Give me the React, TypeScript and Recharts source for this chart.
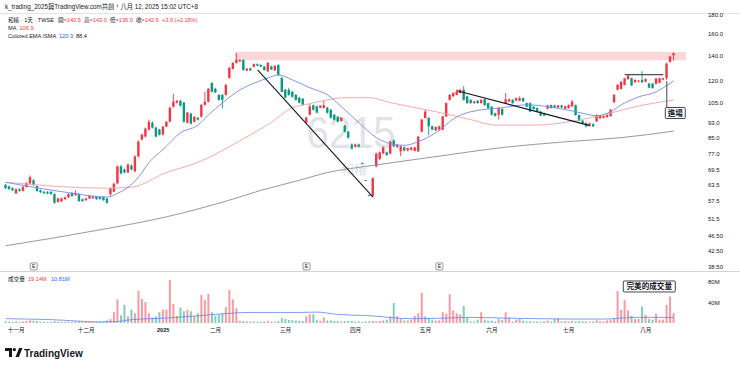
import React from "react";
import {
  ComposedChart,
  Bar,
  Line,
  XAxis,
  YAxis,
  Cell,
  ReferenceArea,
  ReferenceLine,
  ReferenceDot,
} from "recharts";

// daily candles, 和椿 6215, late Oct 2024 -> Aug 12 2025
const opens = [
  63.5, 63.0, 62.3, 60.4, 61.9, 61.3, 62.8, 64.2, 65.4, 63.1, 61.5, 61.0, 60.8, 60.9, 60.1, 57.3, 57.5, 58.3, 58.9, 60.5,
  59.7, 60.1, 58.2, 57.9, 58.5, 58.6, 59.1, 59.0, 59.0, 58.5, 60.0, 61.0, 64.2, 71.2, 69.9, 68.6, 71.6, 69.1, 75.7, 83.9,
  85.5, 89.2, 93.0, 90.3, 89.2, 86.5, 90.8, 93.6, 102.6, 105.2, 106.4, 105.2, 93.0, 98.3, 93.6, 95.9, 96.5, 103.8, 105.8, 118.7,
  114.5, 110.3, 110.3, 110.3, 122.4, 129.3, 134.2, 135.5, 136.6, 128.0, 129.8, 131.0, 133.2, 132.5, 131.2, 127.4, 131.2, 128.2, 132.5, 122.4,
  113.8, 113.8, 112.4, 110.3, 108.4, 107.7, 93.2, 97.7, 103.5, 102.8, 102.0, 101.8, 102.0, 100.7, 97.7, 96.5, 94.0, 91.4, 88.1, 81.4,
  80.4, 81.4, 72.8, 65.5, 59.8, 59.5, 71.2, 74.5, 77.1, 77.6, 77.0, 83.4, 80.2, 78.1, 80.0, 78.5, 78.8, 78.3, 78.1, 88.1,
  95.8, 95.8, 91.0, 88.8, 89.2, 89.2, 96.7, 107.0, 109.4, 110.3, 111.6, 113.8, 109.3, 107.0, 104.9, 106.4, 104.9, 107.4, 104.9, 102.6,
  98.5, 97.7, 101.2, 104.9, 106.0, 107.0, 106.5, 106.5, 108.1, 104.9, 104.9, 102.6, 101.7, 99.6, 98.5, 101.4, 103.6, 103.4, 102.2, 103.4,
  101.4, 101.8, 102.8, 103.6, 97.5, 94.2, 92.8, 91.4, 92.2, 93.8, 95.6, 95.9, 96.3, 96.9, 105.5, 113.8, 114.4, 117.3, 121.5, 122.2,
  119.2, 119.6, 120.9, 119.6, 118.2, 118.2, 118.0, 118.8, 121.0, 122.4, 135.0, 140.5,
];
const highs = [
  64.0, 63.3, 62.7, 62.3, 62.3, 63.2, 64.6, 67.4, 65.8, 63.4, 61.8, 61.2, 61.2, 61.2, 60.4, 58.8, 58.8, 59.2, 60.4, 61.0,
  61.5, 60.4, 58.5, 58.8, 59.7, 59.6, 59.4, 59.3, 59.2, 58.7, 62.5, 64.5, 71.6, 71.8, 70.3, 72.4, 72.0, 76.1, 83.4, 87.0,
  90.3, 94.8, 93.8, 90.8, 89.6, 91.2, 94.0, 102.6, 111.0, 107.0, 107.0, 105.8, 99.4, 98.9, 96.9, 96.3, 104.2, 112.4, 115.0, 119.2,
  115.2, 110.8, 110.8, 117.8, 130.8, 134.8, 142.6, 137.2, 137.0, 130.0, 130.2, 133.8, 133.8, 133.0, 131.6, 135.0, 132.0, 132.3, 133.0, 123.0,
  114.5, 115.2, 113.0, 110.8, 109.0, 108.2, 96.5, 104.5, 104.0, 103.3, 103.7, 106.5, 102.5, 101.1, 98.1, 96.9, 96.3, 91.8, 88.5, 81.9,
  81.9, 81.9, 72.8, 65.5, 59.8, 66.6, 77.5, 78.0, 80.5, 78.0, 83.3, 84.0, 81.8, 81.0, 80.5, 80.0, 80.3, 80.4, 85.8, 95.2,
  100.7, 96.2, 91.4, 91.0, 91.4, 97.1, 105.3, 110.8, 112.0, 114.0, 114.5, 116.4, 109.8, 107.4, 106.4, 106.8, 107.4, 107.8, 105.3, 103.0,
  98.9, 102.3, 101.6, 111.6, 107.8, 107.4, 108.6, 109.3, 108.6, 105.3, 105.3, 103.0, 102.1, 100.0, 98.9, 103.8, 104.0, 103.8, 103.8, 103.8,
  103.2, 104.0, 107.0, 104.0, 97.9, 94.6, 93.2, 93.0, 92.6, 97.9, 97.3, 97.3, 97.9, 101.1, 110.8, 117.8, 120.0, 122.4, 125.2, 122.6,
  121.3, 120.8, 127.5, 122.0, 118.6, 118.6, 122.4, 122.6, 122.4, 134.2, 140.2, 143.0,
];
const lows = [
  62.0, 61.7, 61.2, 60.1, 61.0, 61.0, 62.5, 63.9, 63.2, 61.0, 60.5, 60.2, 60.0, 59.9, 56.7, 57.0, 57.2, 58.0, 58.7, 59.2,
  59.5, 57.3, 57.3, 57.7, 58.3, 58.4, 58.0, 58.1, 57.7, 56.7, 59.5, 60.8, 63.8, 67.8, 68.3, 68.3, 69.5, 68.8, 75.3, 83.5,
  85.0, 88.8, 89.8, 85.0, 86.0, 86.0, 90.5, 93.2, 102.0, 104.6, 102.8, 93.0, 92.6, 92.0, 93.2, 94.4, 96.0, 103.4, 105.2, 112.0,
  111.5, 106.5, 101.5, 109.8, 121.8, 128.8, 133.6, 134.8, 128.0, 127.5, 127.8, 130.5, 131.5, 130.8, 128.0, 127.0, 128.5, 127.8, 124.0, 112.0,
  108.0, 109.8, 108.5, 106.5, 104.8, 103.2, 92.5, 97.2, 100.2, 98.5, 101.6, 101.4, 98.4, 95.4, 94.3, 93.2, 93.6, 87.7, 84.4, 79.0,
  80.0, 80.0, 72.5, 65.2, 59.3, 59.0, 70.8, 74.0, 76.8, 76.0, 76.6, 80.0, 79.6, 75.8, 78.0, 78.0, 78.4, 78.0, 77.8, 87.7,
  95.4, 86.2, 88.8, 88.4, 88.8, 88.8, 96.3, 106.5, 109.0, 110.0, 111.2, 106.5, 104.4, 104.5, 104.5, 104.5, 104.5, 103.2, 101.3, 97.2,
  96.6, 94.8, 97.3, 104.5, 105.6, 104.5, 106.1, 106.1, 105.6, 102.2, 99.2, 100.8, 99.2, 96.8, 96.8, 101.0, 101.4, 101.8, 101.8, 101.8,
  101.0, 101.4, 102.4, 97.1, 93.8, 92.4, 90.5, 91.0, 90.6, 93.4, 95.2, 95.5, 95.9, 96.5, 105.0, 113.4, 114.0, 116.9, 121.0, 116.5,
  118.8, 119.2, 118.8, 119.2, 114.9, 114.6, 117.6, 118.4, 120.6, 121.0, 134.5, 136.0,
];
const closes = [
  62.3, 62.0, 61.5, 61.9, 61.3, 62.8, 64.3, 66.6, 63.5, 61.2, 60.8, 60.4, 60.3, 60.1, 57.0, 58.5, 58.5, 58.9, 60.1, 59.4,
  60.5, 57.6, 57.6, 58.5, 59.4, 59.1, 58.3, 58.3, 57.9, 57.0, 62.2, 64.0, 71.2, 68.2, 68.6, 72.0, 69.9, 75.7, 82.9, 86.5,
  89.7, 93.6, 90.3, 85.5, 86.5, 90.8, 93.6, 102.0, 105.8, 106.4, 103.2, 93.6, 98.9, 92.5, 96.5, 94.8, 103.8, 105.8, 114.5, 112.4,
  112.0, 107.0, 107.0, 117.3, 130.1, 134.2, 136.6, 136.6, 128.5, 129.5, 128.2, 133.2, 132.0, 131.2, 128.5, 134.2, 128.9, 131.7, 124.6, 112.4,
  108.4, 110.3, 109.0, 107.0, 105.2, 103.8, 96.0, 102.8, 100.7, 99.0, 103.2, 103.5, 98.9, 95.9, 94.8, 93.6, 95.9, 88.1, 84.9, 79.4,
  81.4, 80.4, 72.5, 65.2, 59.4, 66.2, 77.0, 77.6, 80.0, 76.3, 82.9, 80.5, 81.2, 80.5, 78.5, 79.6, 79.9, 79.9, 85.4, 94.8,
  99.6, 91.0, 89.2, 90.6, 91.0, 96.7, 104.9, 110.3, 111.6, 112.5, 113.8, 107.0, 104.9, 104.9, 106.0, 104.9, 107.0, 103.6, 101.7, 97.7,
  97.0, 101.9, 97.7, 107.4, 107.4, 104.9, 108.1, 108.1, 106.0, 102.6, 99.6, 101.2, 99.6, 97.2, 97.2, 103.4, 101.8, 102.2, 103.4, 102.2,
  102.8, 103.6, 105.8, 97.5, 94.2, 92.8, 91.0, 92.6, 91.0, 97.5, 96.9, 96.9, 97.5, 100.7, 110.3, 117.3, 119.6, 122.0, 124.2, 116.9,
  120.9, 120.4, 119.2, 121.5, 115.3, 115.0, 122.0, 122.2, 122.0, 133.6, 139.5, 142.5,
];
// volume, millions
const volumes = [
  3.2, 2.6, 2.4, 3.0, 2.2, 2.8, 4.0, 5.2, 4.5, 3.6, 2.6, 2.2, 2.0, 2.4, 3.8, 2.8, 2.2, 2.0, 2.8, 2.4,
  3.2, 3.4, 2.2, 2.0, 2.4, 2.0, 1.8, 2.2, 2.6, 5, 7.7, 21, 46, 15, 35.5, 13, 26, 19, 63, 47,
  41, 19, 11, 13, 21, 26, 26, 84, 37, 14, 30, 23, 26, 23, 13, 19, 55, 45, 57, 21,
  14, 16, 19, 31, 64.5, 46, 29, 4.5, 4, 3, 2.5, 3, 2.5, 2.5, 3, 4, 2.5, 2.5, 3.5, 9.7,
  7.7, 6, 5.5, 5, 4.5, 4, 13, 17, 17, 6, 4.5, 11, 5, 5, 4, 3.5, 3, 3.5, 4, 4,
  3, 3, 2, 3, 3.5, 4, 3.5, 4, 5, 6.5, 13, 39, 13, 8, 5, 5, 6.5, 14, 19, 59,
  13, 10, 6.5, 5, 5, 21, 18, 56, 24.5, 19, 17, 33.5, 10, 3, 3, 6.5, 21, 6.5, 4.5, 4.5,
  3, 8, 6, 21, 11, 3, 6.5, 8, 4.5, 3, 3.5, 2.5, 3, 2.5, 3, 5, 3, 8, 9.7, 3,
  3.5, 3, 4, 3, 3.5, 3, 3, 2.5, 3, 5, 3, 3, 5, 6.5, 8, 62.5, 26, 45, 24.5, 14,
  8, 8, 32, 16, 8, 6.5, 18, 6.5, 6.5, 35.5, 51.6, 19.14,
];

// indicator lines at [bar, value]
const emaPoints: [number, number][] = [
  [0, 64.6], [17, 60.8], [29, 59.0], [32, 60.4], [35, 62.7], [38, 66.7], [41, 73.0], [45, 79.0], [50, 87.5],
  [55, 91.7], [58, 97.7], [62, 105.1], [67, 113.8], [72, 119.5], [75, 122.4], [78, 124.6], [82, 120.9],
  [87, 115.2], [92, 110.3], [96, 102.6], [101, 93.0], [106, 84.9], [111, 81.4], [114, 81.0], [118, 82.9],
  [123, 87.5], [129, 96.5], [133, 99.5], [142, 102.0], [149, 103.8], [157, 102.0], [163, 99.5], [169, 97.1],
  [173, 99.5], [176, 103.8], [181, 109.0], [186, 112.4], [188, 115.2], [191, 120.3],
];
const maPoints: [number, number][] = [
  [0, 64.6], [29, 62.3], [36, 62.7], [46, 68.6], [55, 73.0], [64, 80.4], [69, 85.4], [75, 92.0], [82, 102.0],
  [87, 104.5], [92, 107.0], [97, 108.4], [104, 108.4], [110, 105.2], [123, 99.5], [133, 94.8], [140, 91.7],
  [152, 91.7], [161, 93.6], [171, 97.7], [180, 102.6], [191, 106.9],
];
const smaPoints: [number, number][] = [
  [0, 43.8], [27, 48.3], [46, 52.3], [65, 58.3], [73, 61.5], [84, 65.4], [92, 68.6], [103, 71.2], [113, 73.4],
  [123, 75.6], [142, 79.9], [161, 82.9], [176, 84.9], [191, 88.4],
];
const volMaPoints: [number, number][] = [
  [0, 8.4], [13, 6.5], [27, 2.2], [31, 2.5], [36, 6.5], [46, 9.7], [55, 14], [65, 19.4], [70, 20.6], [84, 20.6],
  [89, 21.3], [94, 17.4], [104, 14.2], [116, 8.4], [123, 9], [133, 11], [142, 9.7], [152, 8.4], [161, 7.7],
  [171, 7.7], [175, 9], [180, 11], [191, 10.81],
];

const priceTicks = [180, 160, 140, 120, 105, 93, 85, 77, 69.5, 63.5, 57.5, 51.5, 46.5, 42.5, 38.5];
const volTicks = [40, 80];
const monthTickIdx = [3, 23, 45, 60, 80, 100, 120, 139, 161, 183];
const monthTickLabels = ["十一月", "十二月", "2025", "二月", "三月", "四月", "五月", "六月", "七月", "八月"];
const earningsIdx = [8, 86, 124];

const UP = "#F23645";
const DOWN = "#089981";
const BLUE = "#2962ff";
const INK = "#131722";
const FONT = "'Liberation Sans', 'Noto Sans CJK TC', sans-serif";
const PAD = 7; // empty bars on the right, like TradingView's right offset

const toMap = (pts: [number, number][]) => new Map(pts.map(([i, v]) => [i, v]));
const emaMap = toMap(emaPoints);
const maMap = toMap(maPoints);
const smaMap = toMap(smaPoints);
const volMaMap = toMap(volMaPoints);

const rows = Array.from({ length: opens.length + PAD }, (_, i) => {
  if (i >= opens.length) return { i };
  return {
    i,
    o: opens[i],
    h: highs[i],
    l: lows[i],
    c: closes[i],
    hl: [lows[i], highs[i]],
    vol: volumes[i],
    ema: emaMap.get(i) ?? null,
    ma: maMap.get(i) ?? null,
    sma: smaMap.get(i) ?? null,
    volMa: volMaMap.get(i) ?? null,
  };
});

const fmtPrice = (v: number) => (v < 50 ? v.toFixed(2) : v.toFixed(1));

function Candle(props: any) {
  const { x, y, width, height, payload } = props;
  if (!payload || payload.o == null) return null;
  const { o, h, l, c } = payload;
  const top = Math.min(y, y + height);
  const span = Math.abs(height);
  const lh = Math.log(h);
  const ll = Math.log(l);
  // the price axis is logarithmic, so place open/close between high and low in log space
  const py = (p: number) => (lh === ll ? top : top + ((lh - Math.log(p)) / (lh - ll)) * span);
  const cx = x + width / 2;
  const color = c >= o ? UP : DOWN;
  const bTop = py(Math.max(o, c));
  const bBot = py(Math.min(o, c));
  const bw = 2.4;
  return (
    <g>
      <line x1={cx} x2={cx} y1={top} y2={top + Math.max(span, 1)} stroke={color} strokeWidth={0.9} />
      <rect x={cx - bw / 2} y={bTop} width={bw} height={Math.max(1, bBot - bTop)} fill={color} />
    </g>
  );
}

const EBox = ({ cx, cy }: any) => (
  <g>
    <rect x={cx - 3.5} y={cy - 3.5} width={7} height={7} fill="#fff" stroke="#6a6d78" strokeWidth={0.7} rx={0.8} />
    <text x={cx} y={cy + 1.9} textAnchor="middle" fontSize={5} fill={INK}>
      E
    </text>
  </g>
);

const NoteBox = ({ cx, cy, text, w, left }: any) => (
  <g>
    <rect x={cx - left} y={cy} width={w} height={11} fill="#fff" stroke={INK} strokeWidth={0.8} rx={1} />
    <text x={cx - left + w / 2} y={cy + 8.3} textAnchor="middle" fontSize={7.6} fontWeight={700} fill={INK}>
      {text}
    </text>
  </g>
);

const MonthTick = ({ x, y, payload }: any) => {
  const k = monthTickIdx.indexOf(payload.value);
  const label = monthTickLabels[k] ?? "";
  return (
    <text x={x} y={y + 4} textAnchor="middle" fontSize={5.6} fill={INK} fontWeight={label === "2025" ? 700 : 400}>
      {label}
    </text>
  );
};

// legend pieces: [x, text, colour]
const legendOhlc: [number, string, string][] = [
  [8, "和椿 · 1天 · TWSE", INK],
  [58, "開", INK], [63.5, "=140.5", UP],
  [84, "高", INK], [89.5, "=143.0", UP],
  [110, "低", INK], [115.5, "=136.0", UP],
  [136, "收", INK], [141.5, "=142.5", UP],
  [162, "+3.0 (+2.15%)", UP],
];
const legendMa: [number, string, string][] = [
  [8, "MA", INK],
  [19.5, "106.9", UP],
];
const legendEma: [number, string, string][] = [
  [8, "Colored EMA /SMA", INK],
  [59, "120.3", BLUE],
  [76, "88.4", INK],
];
const legendVol: [number, string, string][] = [
  [8, "成交量", INK],
  [28, "19.14M", UP],
  [51, "10.81M", BLUE],
];

const LegendRow = ({ y, items }: { y: number; items: [number, string, string][] }) => (
  <g>
    {items.map(([x, t, c], k) => (
      <text key={k} x={x} y={y} fontSize={5.6} fill={c}>
        {t}
      </text>
    ))}
  </g>
);

export default function App() {
  return (
    <div
      style={{
        position: "fixed",
        left: 0,
        top: 0,
        width: 740,
        height: 367,
        background: "#fff",
        fontFamily: FONT,
        color: INK,
        overflow: "hidden",
      }}
    >
      <div style={{ position: "absolute", left: 0, top: 13, width: 740, height: 1, background: "#e0e3eb" }} />

      {/* symbol watermark */}
      <svg width={740} height={272} style={{ position: "absolute", left: 0, top: 0 }}>
        <text x={351} y={148} textAnchor="middle" fontSize={44} fill="#e2e3e8" textLength={89} lengthAdjust="spacingAndGlyphs">
          6215
        </text>
        <text x={354} y={174} textAnchor="middle" fontSize={13} fill="#e0e1e6">
          和椿
        </text>
      </svg>

      <div style={{ position: "absolute", left: 0, top: 0 }}>
        <ComposedChart width={740} height={272} data={rows} margin={{ top: 14, right: 0, bottom: 0, left: 4 }} barCategoryGap={0}>
          <XAxis dataKey="i" hide />
          <YAxis
            orientation="right"
            type="number"
            scale="log"
            domain={[37.3, 181]}
            allowDataOverflow
            ticks={priceTicks}
            interval={0}
            tickFormatter={fmtPrice}
            width={40}
            axisLine={false}
            tickLine={false}
            tick={{ fontSize: 6, fill: INK }}
          />
          <ReferenceArea x1={66} x2={194} y1={136.3} y2={143.4} fill={UP} fillOpacity={0.2} stroke="none" />
          <Line dataKey="sma" type="monotone" stroke="#8b8d94" strokeWidth={0.9} dot={false} connectNulls isAnimationActive={false} />
          <Line dataKey="ma" type="monotone" stroke="#f4a0a9" strokeWidth={0.9} dot={false} connectNulls isAnimationActive={false} />
          <Line dataKey="ema" type="monotone" stroke="#7489ea" strokeWidth={0.9} dot={false} connectNulls isAnimationActive={false} />
          <Bar dataKey="hl" shape={<Candle />} isAnimationActive={false} />
          <ReferenceLine segment={[{ x: 72, y: 128.5 }, { x: 105, y: 59 }]} stroke={INK} strokeWidth={1.1} />
          <ReferenceLine segment={[{ x: 129, y: 113.2 }, { x: 167, y: 91.4 }]} stroke={INK} strokeWidth={1.1} />
          <ReferenceLine segment={[{ x: 177, y: 124.9 }, { x: 188, y: 124.9 }]} stroke="#4a4d57" strokeWidth={1.4} />
          <ReferenceLine segment={[{ x: 189, y: 120 }, { x: 189, y: 102.1 }]} stroke="#5d606b" strokeWidth={1.2} />
          <ReferenceDot x={189} y={102.1} r={1} shape={(p: any) => <NoteBox cx={p.cx} cy={p.cy} text="進場" w={20} left={1.5} />} />
          {earningsIdx.map((i) => (
            <ReferenceDot key={i} x={i} y={38.6} r={1} shape={(p: any) => <EBox cx={p.cx} cy={p.cy} />} />
          ))}
        </ComposedChart>
      </div>

      {/* header and legends */}
      <svg width={740} height={300} style={{ position: "absolute", left: 0, top: 0, pointerEvents: "none" }}>
        <text x={5} y={9} fontSize={6.3} fill={INK} textLength={193} lengthAdjust="spacingAndGlyphs">
          k_trading_2025與TradingView.com共創，八月 12, 2025 15:02 UTC+8
        </text>
        <LegendRow y={22.2} items={legendOhlc} />
        <LegendRow y={30.4} items={legendMa} />
        <LegendRow y={38} items={legendEma} />
        <LegendRow y={281.4} items={legendVol} />
      </svg>

      <div style={{ position: "absolute", left: 0, top: 271, width: 740, height: 1, background: "#d1d4dc" }} />

      <div style={{ position: "absolute", left: 0, top: 272 }}>
        <ComposedChart width={740} height={70} data={rows} margin={{ top: 0, right: 0, bottom: 0, left: 4 }} barCategoryGap="15%">
          <XAxis
            dataKey="i"
            ticks={monthTickIdx}
            interval={0}
            tick={<MonthTick />}
            axisLine={false}
            tickLine={false}
            tickSize={3}
            height={19}
          />
          <YAxis
            orientation="right"
            type="number"
            domain={[0, 99.5]}
            allowDataOverflow
            ticks={volTicks}
            interval={0}
            tickFormatter={(v: number) => `${v}M`}
            width={40}
            axisLine={false}
            tickLine={false}
            tick={{ fontSize: 6, fill: INK }}
          />
          <Bar dataKey="vol" isAnimationActive={false}>
            {rows.map((r: any) => (
              <Cell key={r.i} fill={r.c != null && r.c >= r.o ? "rgba(242,54,69,0.5)" : "rgba(8,153,129,0.5)"} />
            ))}
          </Bar>
          <Line dataKey="volMa" type="monotone" stroke="#5b86f0" strokeWidth={0.8} dot={false} connectNulls isAnimationActive={false} />
          <ReferenceDot x={184} y={82} r={1} shape={(p: any) => <NoteBox cx={p.cx} cy={p.cy} text="完美的成交量" w={52} left={26} />} />
        </ComposedChart>
      </div>

      {/* TradingView logo */}
      <svg width={90} height={16} style={{ position: "absolute", left: 4, top: 345 }}>
        <path d="M1 3h7v9H5V6H1z" fill={INK} />
        <circle cx={10.3} cy={4.6} r={1.7} fill={INK} />
        <path d="M11.5 12l3.6-9h3.4l-3.6 9z" fill={INK} />
        <text x={20} y={11.5} fontSize={10} fontWeight={700} fill={INK}>
          TradingView
        </text>
      </svg>
    </div>
  );
}
